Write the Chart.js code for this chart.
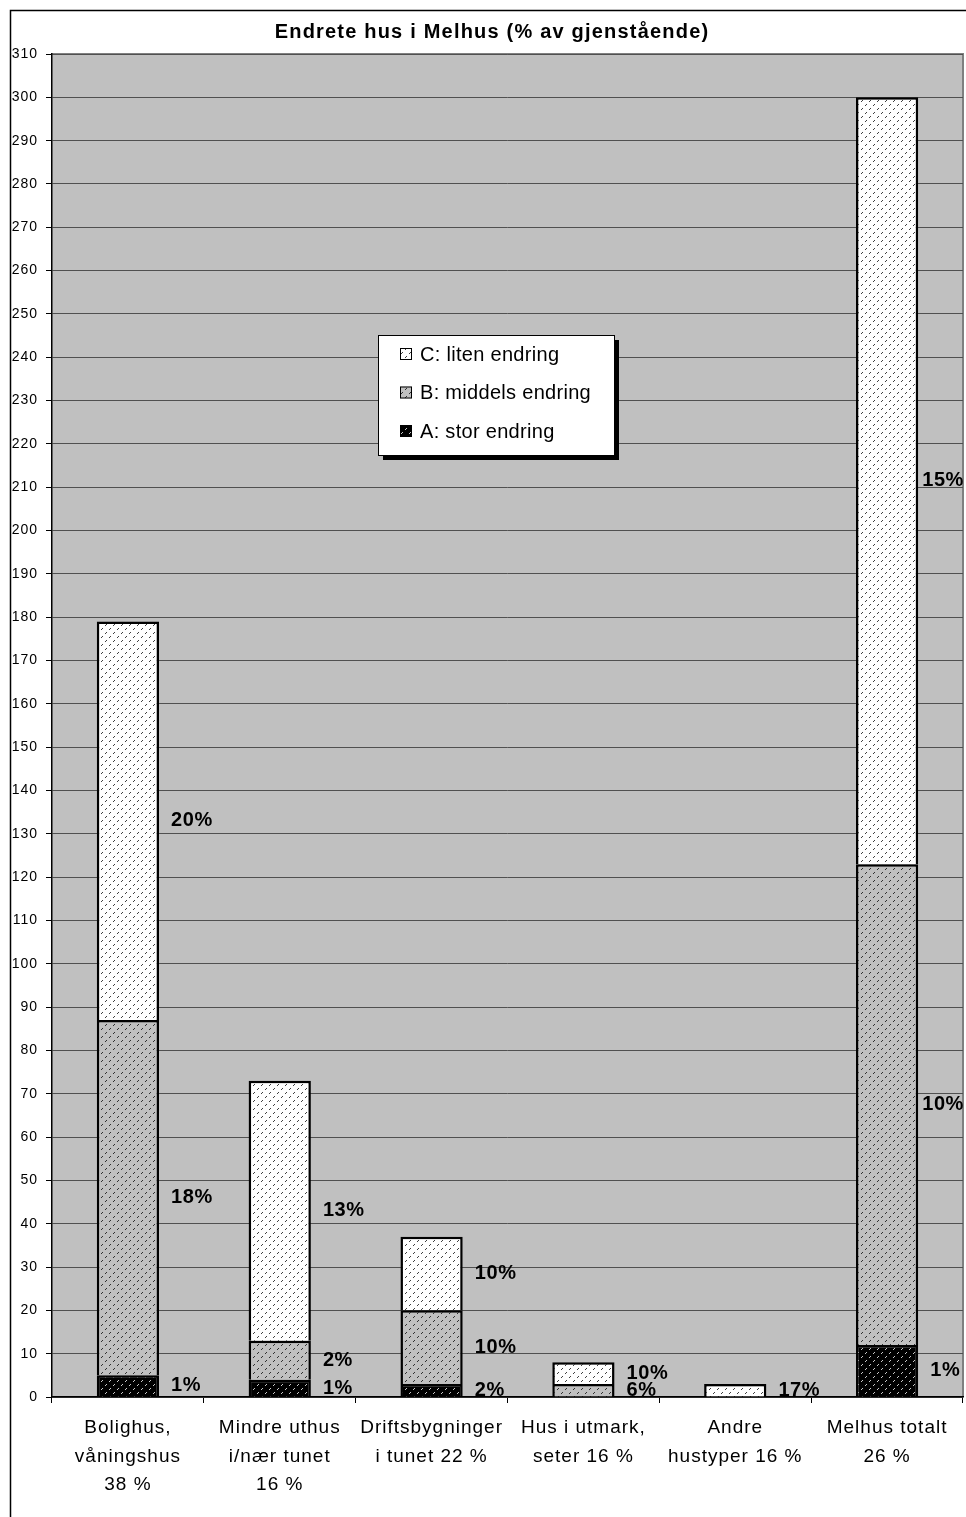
<!DOCTYPE html>
<html>
<head>
<meta charset="utf-8">
<script src="https://cdn.jsdelivr.net/npm/chart.js@4"></script>
<style>
    body { margin: 0; background: #fff; }
    #wrap { width: 966px; height: 1517px; }
</style>
</head>
<body>
<div id="wrap"><canvas id="houseChart"></canvas></div>
<script>
const categories = [
    ['Bolighus,', 'våningshus', '38 %'],
    ['Mindre uthus', 'i/nær tunet', '16 %'],
    ['Driftsbygninger', 'i tunet 22 %'],
    ['Hus i utmark,', 'seter 16 %'],
    ['Andre', 'hustyper 16 %'],
    ['Melhus totalt', '26 %']
];

const storEndring = [5, 4, 3, 0, 0, 12];
const middelsEndring = [82, 9, 17, 3, 0, 111];
const litenEndring = [92, 60, 17, 5, 3, 177];

const storPct = ['1%', '1%', '2%', null, null, '1%'];
const middelsPct = ['18%', '2%', '10%', '6%', null, '10%'];
const litenPct = ['20%', '13%', '10%', '10%', '17%', '15%'];

const yTicks = { min: 0, max: 310, step: 10 };

const FONT = 'Arial, "Liberation Sans", sans-serif';

function makePattern(bg, dot) {
    const c = document.createElement('canvas');
    c.width = 8;
    c.height = 8;
    const g = c.getContext('2d');
    g.fillStyle = bg;
    g.fillRect(0, 0, 8, 8);
    g.fillStyle = dot;
    g.fillRect(1, 1, 1, 1);
    g.fillRect(2, 0, 1, 1);
    g.fillRect(5, 5, 1, 1);
    g.fillRect(6, 4, 1, 1);
    return g.createPattern(c, 'repeat');
}

const patA = makePattern('#000000', '#c8c8c8');
const patB = makePattern('#c0c0c0', '#303030');
const patC = makePattern('#ffffff', '#404040');

const frame = {
    id: 'frame',
    beforeDraw(chart) {
        const g = chart.ctx;
        const a = chart.chartArea;
        g.letterSpacing = '1px';
        g.save();
        g.fillStyle = '#ffffff';
        g.fillRect(0, 0, chart.width, chart.height);
        g.strokeStyle = '#000';
        g.lineWidth = 1.5;
        g.strokeRect(10.5, 10.5, chart.width + 20, chart.height + 20);
        g.fillStyle = '#c0c0c0';
        g.fillRect(a.left, a.top, a.right - a.left, a.bottom - a.top);
        g.strokeStyle = '#808080';
        g.lineWidth = 2;
        g.beginPath();
        g.moveTo(a.left, a.top);
        g.lineTo(a.right, a.top);
        g.lineTo(a.right, a.bottom);
        g.stroke();
        g.fillStyle = '#000';
        g.font = 'bold 20px ' + FONT;
        g.letterSpacing = '1.2px';
        g.textAlign = 'center';
        g.textBaseline = 'middle';
        g.fillText('Endrete hus i Melhus (% av gjenstående)', 492, 32);
        g.restore();
    },
    afterDatasetsDraw(chart) {
        const g = chart.ctx;
        const labels = [storPct, middelsPct, litenPct];
        g.save();
        g.fillStyle = '#000';
        g.font = 'bold 20px ' + FONT;
        g.letterSpacing = '0.6px';
        g.textAlign = 'left';
        g.textBaseline = 'middle';
        labels.forEach((arr, i) => {
            const meta = chart.getDatasetMeta(i);
            arr.forEach((txt, j) => {
                if (!txt) return;
                const bar = meta.data[j];
                const p = bar.getProps(['x', 'y', 'base', 'width'], true);
                const w = g.measureText(txt).width;
                const x = Math.min(p.x + p.width / 2 + 12, chart.width - w - 2);
                g.fillText(txt, x, (p.y + p.base) / 2);
            });
        });

        // legend box
        const lx = 378, ly = 335, lw = 236, lh = 120;
        g.fillStyle = '#000';
        g.fillRect(lx + 5, ly + 5, lw, lh);
        g.fillStyle = '#fff';
        g.fillRect(lx, ly, lw, lh);
        g.strokeStyle = '#000';
        g.lineWidth = 1;
        g.strokeRect(lx + 0.5, ly + 0.5, lw, lh);
        const items = [2, 1, 0];
        items.forEach((di, k) => {
            const ds = chart.data.datasets[di];
            const cy = ly + 19 + k * 38.5;
            g.fillStyle = ds.backgroundColor;
            g.fillRect(lx + 22, cy - 6, 12, 12);
            g.strokeStyle = '#000';
            g.strokeRect(lx + 22.5, cy - 5.5, 11, 11);
            g.fillStyle = '#000';
            g.font = '20px ' + FONT;
            g.letterSpacing = '0.3px';
            g.fillText(ds.label, lx + 42, cy + 1);
        });
        g.restore();
    }
};

new Chart(document.getElementById('houseChart'), {
    type: 'bar',
    data: {
        labels: categories,
        datasets: [
            { label: 'A: stor endring', data: storEndring, backgroundColor: patA },
            { label: 'B: middels endring', data: middelsEndring, backgroundColor: patB },
            { label: 'C: liten endring', data: litenEndring, backgroundColor: patC }
        ]
    },
    options: {
        responsive: true,
        maintainAspectRatio: false,
        animation: false,
        devicePixelRatio: 1,
        layout: {
            padding: { top: 54, right: 3, bottom: 0, left: 0 }
        },
        datasets: {
            bar: {
                borderColor: '#000',
                borderWidth: 2.5,
                barPercentage: 0.41,
                categoryPercentage: 1
            }
        },
        plugins: {
            legend: { display: false },
            tooltip: { enabled: false }
        },
        scales: {
            x: {
                stacked: true,
                grid: {
                    offset: true,
                    drawOnChartArea: false,
                    drawTicks: true,
                    tickLength: 6,
                    color: '#000'
                },
                border: { color: '#000', width: 1.5 },
                ticks: {
                    color: '#000',
                    font: { family: FONT, size: 19, lineHeight: 1.5 },
                    padding: 11,
                    maxRotation: 0,
                    autoSkip: false
                },
                afterFit(scale) { scale.height = 120; }
            },
            y: {
                stacked: true,
                min: yTicks.min,
                max: yTicks.max,
                grid: {
                    color: '#505050',
                    lineWidth: 1,
                    drawTicks: true,
                    tickLength: 6,
                    tickColor: '#000'
                },
                border: { color: '#000', width: 1.5 },
                ticks: {
                    stepSize: yTicks.step,
                    color: '#000',
                    font: { family: FONT, size: 14 },
                    padding: 8,
                    autoSkip: false
                },
                afterFit(scale) { scale.width = 52; }
            }
        }
    },
    plugins: [frame]
});
</script>
</body>
</html>
